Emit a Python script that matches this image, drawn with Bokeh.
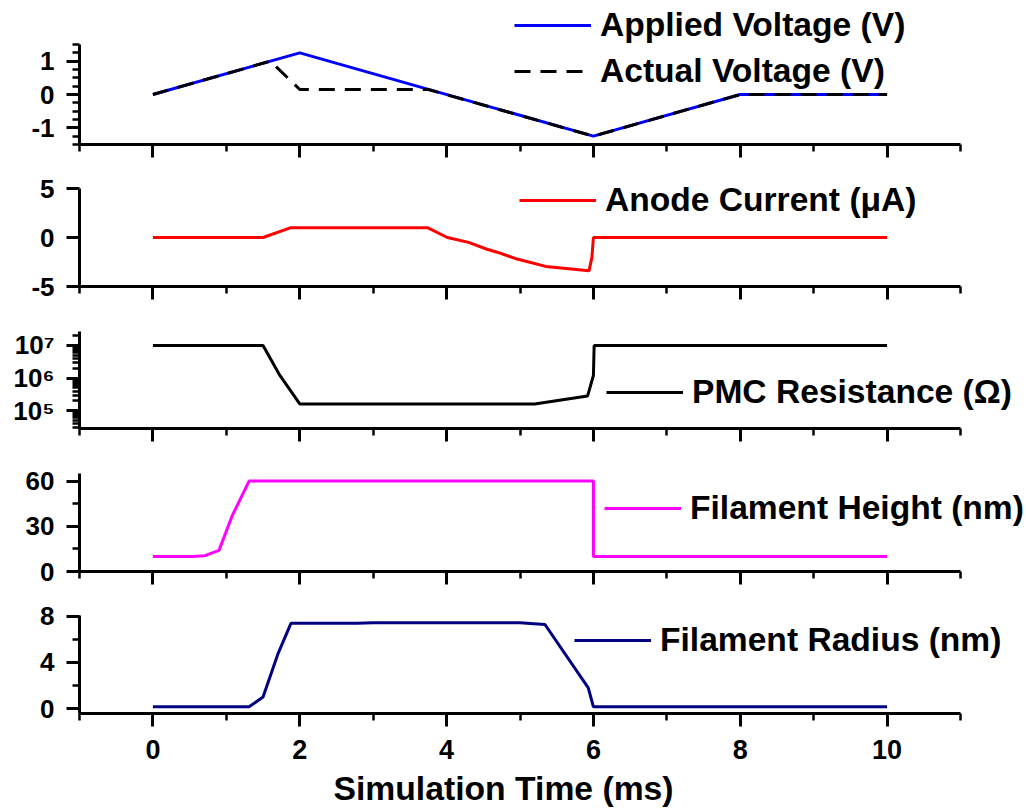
import math
from bokeh.plotting import figure
from bokeh.layouts import column
from bokeh.models import (FixedTicker, Range1d, Legend, LegendItem, Title,
                          CustomLabelingPolicy)
from bokeh.embed import file_html
from bokeh.resources import INLINE

FONT = "Liberation Sans"

# ---------------- data ----------------
t_applied = [0, 2, 6, 8, 10]
v_applied = [0, 1.25, -1.25, 0, 0]

t_actual = [0, 1.6, 2.0, 3.75, 6, 8, 10]
v_actual = [0, 1.0, 0.15, 0.15, -1.25, 0, 0]

t_current = [0, 1.5, 1.88, 3.74, 4.01, 4.30, 4.55, 4.69, 4.96, 5.35, 5.94, 5.98, 6.0, 10]
i_current = [0, 0, 1.0, 1.0, 0.0, -0.5, -1.2, -1.5, -2.2, -2.95, -3.4, -2.0, 0, 0]

t_res = [0, 1.5, 1.72, 2.0, 5.2, 5.92, 6.0, 6.01, 10]
r_res = [1e7, 1e7, 1.3e6, 1.6e5, 1.6e5, 2.8e5, 1.2e6, 1e7, 1e7]

t_height = [0, 0.54, 0.71, 0.90, 1.08, 1.31, 6.0, 6.0, 10]
h_height = [10, 10, 10.5, 14, 37, 60, 60, 10, 10]

t_radius = [0, 1.31, 1.5, 1.70, 1.88, 2.78, 3.0, 5.0, 5.34, 5.93, 6.0, 10]
r_radius = [0.15, 0.15, 1.0, 4.7, 7.4, 7.4, 7.45, 7.45, 7.3, 1.8, 0.15, 0.15]

x_major = [0, 2, 4, 6, 8, 10]
x_minor = [-1, 1, 3, 5, 7, 9, 11]
x_lo, x_hi = -1, 11

# ---------------- layout geometry ----------------
LEFT = 79          # left border (y axis)
AXIS_W = 881       # pixel length of the drawn x axis (-1..11)
FRAME_W = 1026 - LEFT
x_end = x_lo + (x_hi - x_lo) * FRAME_W / AXIS_W

NO_LABELS = CustomLabelingPolicy(code="for (const i of indices) { if (false) yield i }")


def make_fig(height, bottom, extra_top, axis_px, lo, hi, y_type="linear", last=False):
    if y_type == "log":
        top = 10 ** (math.log10(hi) + extra_top * (math.log10(hi) - math.log10(lo)) / axis_px)
    else:
        top = hi + extra_top * (hi - lo) / axis_px
    p = figure(width=1026, height=height, x_range=Range1d(x_lo, x_end),
               y_range=Range1d(lo, top), y_axis_type=y_type,
               output_backend="svg", toolbar_location=None,
               min_border_left=LEFT, min_border_right=0, min_border_top=0,
               min_border_bottom=bottom)
    p.outline_line_color = None
    p.xgrid.visible = False
    p.ygrid.visible = False
    p.background_fill_color = "white"
    p.border_fill_color = "white"
    for ax in (p.xaxis[0], p.yaxis[0]):
        ax.axis_line_width = 3
        ax.major_tick_line_width = 3
        ax.minor_tick_line_width = 2.5
        ax.major_tick_out = 13
        ax.major_tick_in = 0
        ax.minor_tick_out = 7
        ax.minor_tick_in = 0
        ax.axis_line_color = "black"
        ax.major_tick_line_color = "black"
        ax.minor_tick_line_color = "black"
        ax.major_label_text_font = FONT
        ax.major_label_text_font_style = "bold"
        ax.major_label_text_color = "black"
    p.xaxis[0].ticker = FixedTicker(ticks=x_major, minor_ticks=x_minor)
    p.xaxis[0].bounds = (x_lo, x_hi)
    p.yaxis[0].bounds = (lo, hi)
    p.yaxis[0].major_label_text_font_size = "26px"
    p.yaxis[0].major_label_standoff = 12
    if last:
        p.xaxis[0].major_label_text_font_size = "27px"
        p.xaxis[0].major_label_standoff = 13
        p.add_layout(Title(text="Simulation Time (ms)", align="left", offset=254,
                           text_font=FONT, text_font_style="bold",
                           text_font_size="33.7px", text_color="black",
                           standoff=10), "below")
    else:
        p.xaxis[0].major_label_text_font_size = "0px"
        p.xaxis[0].major_label_standoff = 0
        p.xaxis[0].major_label_policy = NO_LABELS
    return p


def add_legend(p, items, x, y):
    lg = Legend(items=items, location=(x, y), glyph_width=77, glyph_height=36,
                label_height=36, label_standoff=9, spacing=8, padding=0, margin=0,
                label_text_font=FONT, label_text_font_style="bold",
                label_text_font_size="33.6px", label_text_color="black",
                background_fill_alpha=0, border_line_color=None)
    p.add_layout(lg)


LW = 3

# Panel 1: voltages
p1 = make_fig(158, 14, 44, 100, -1.5, 1.5)
p1.yaxis[0].ticker = FixedTicker(ticks=[-1, 0, 1],
                                 minor_ticks=[-1.5, -1.25, -0.75, -0.5, -0.25, 0.25, 0.5, 0.75, 1.25, 1.5])
p1.yaxis[0].major_label_overrides = {-1: "-1", 0: "0", 1: "1"}
ra = p1.line(t_applied, v_applied, line_color="#0000FF", line_width=LW)
rb = p1.line(t_actual, v_actual, line_color="black", line_width=LW, line_dash="16 10")
add_legend(p1, [LegendItem(label="Applied Voltage (V)", renderers=[ra]),
                LegendItem(label="Actual Voltage (V)", renderers=[rb])], 435, 54)

# Panel 2: current
p2 = make_fig(142, 14, 30, 98, -5, 5)
p2.yaxis[0].ticker = FixedTicker(ticks=[-5, 0, 5], minor_ticks=[])
p2.yaxis[0].major_label_overrides = {-5: "-5", 0: "0", 5: "5"}
rc = p2.line(t_current, i_current, line_color="#FF0000", line_width=LW)
add_legend(p2, [LegendItem(label="Anode Current (\u03bcA)", renderers=[rc])], 440, 67)

# Panel 3: resistance (log)
r_lo, r_hi = 10 ** 4.45, 10 ** 7.43
p3 = make_fig(142, 14, 31, 97, r_lo, r_hi, y_type="log")
minor_log = [m * 10 ** k for k in (4, 5, 6, 7) for m in range(2, 10) if r_lo <= m * 10 ** k <= r_hi]
p3.yaxis[0].ticker = FixedTicker(ticks=[1e5, 1e6, 1e7], minor_ticks=minor_log)
p3.yaxis[0].major_label_overrides = {1e5: "10\u2075", 1e6: "10\u2076", 1e7: "10\u2077"}
rr = p3.line(t_res, r_res, line_color="black", line_width=LW)
add_legend(p3, [LegendItem(label="PMC Resistance (\u03a9)", renderers=[rr])], 527, 17)

# Panel 4: filament height
p4 = make_fig(143, 14, 31, 98, 0, 65)
p4.yaxis[0].ticker = FixedTicker(ticks=[0, 30, 60], minor_ticks=[15, 45])
rh = p4.line(t_height, h_height, line_color="#FF00FF", line_width=LW)
add_legend(p4, [LegendItem(label="Filament Height (nm)", renderers=[rh])], 525, 44)

# Panel 5: filament radius
p5 = make_fig(227, 99, 30, 98, -0.43, 8.08, last=True)
p5.yaxis[0].ticker = FixedTicker(ticks=[0, 4, 8], minor_ticks=[2, 6])
rd = p5.line(t_radius, r_radius, line_color="#000080", line_width=LW)
add_legend(p5, [LegendItem(label="Filament Radius (nm)", renderers=[rd])], 495, 54)

layout = column(p1, p2, p3, p4, p5, spacing=0)
open("out.html", "w").write(file_html(layout, INLINE))
